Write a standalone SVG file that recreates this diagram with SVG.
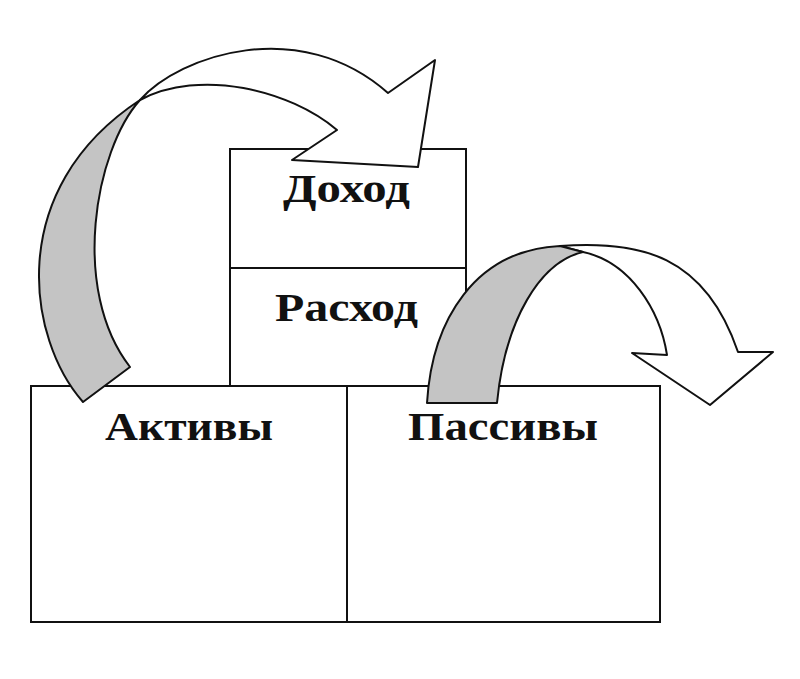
<svg xmlns="http://www.w3.org/2000/svg" width="800" height="679" viewBox="0 0 800 679">
<style>
.box{fill:#fff;stroke:#111;stroke-width:2}
.lbl{font-family:"Liberation Serif","Times New Roman",serif;font-weight:bold;font-size:40px;fill:#111}
.arr{fill:#fff;stroke:#111;stroke-width:2;stroke-linejoin:round}
.shade{fill:#c4c4c4;stroke:#111;stroke-width:2;stroke-linejoin:round}
</style>
<rect width="800" height="679" fill="#fff"/>
<g id="dohod">
<rect class="box" x="230" y="149" width="236" height="119"/>
<text class="lbl" x="283" y="202" textLength="127" lengthAdjust="spacingAndGlyphs">Доход</text>
</g>
<g id="rashod">
<rect class="box" x="230" y="268" width="236" height="118"/>
<text class="lbl" x="275" y="321" textLength="143" lengthAdjust="spacingAndGlyphs">Расход</text>
</g>
<g id="aktivy">
<rect class="box" x="31" y="386" width="316" height="236"/>
<text class="lbl" x="105" y="440" textLength="168" lengthAdjust="spacingAndGlyphs">Активы</text>
</g>
<g id="passivy">
<rect class="box" x="347" y="386" width="313" height="236"/>
<text class="lbl" x="408" y="440" textLength="190" lengthAdjust="spacingAndGlyphs">Пассивы</text>
</g>
<g id="connectors">
<g id="arrow-left">
<path class="arr" d="M140,100 C180,55 300,15 388,93 L435,60 L418,167 L292,160 L337,130 C290,90 200,68 140,100 Z"/>
<path class="shade" d="M83,402 C28,340 3,190 140,100 C95,150 70,290 130,367 Z"/>
</g>
<g id="arrow-right">
<path class="arr" d="M560,246 C640,240 705,255 738,352 L773,352 L710,405 L632,353 L667,355 C660,310 630,262 583,252 Z"/>
<path class="shade" d="M427,403 C432,320 475,250 560,246 L583,252 C540,262 505,320 497,403 Z"/>
</g>
</g>
</svg>
